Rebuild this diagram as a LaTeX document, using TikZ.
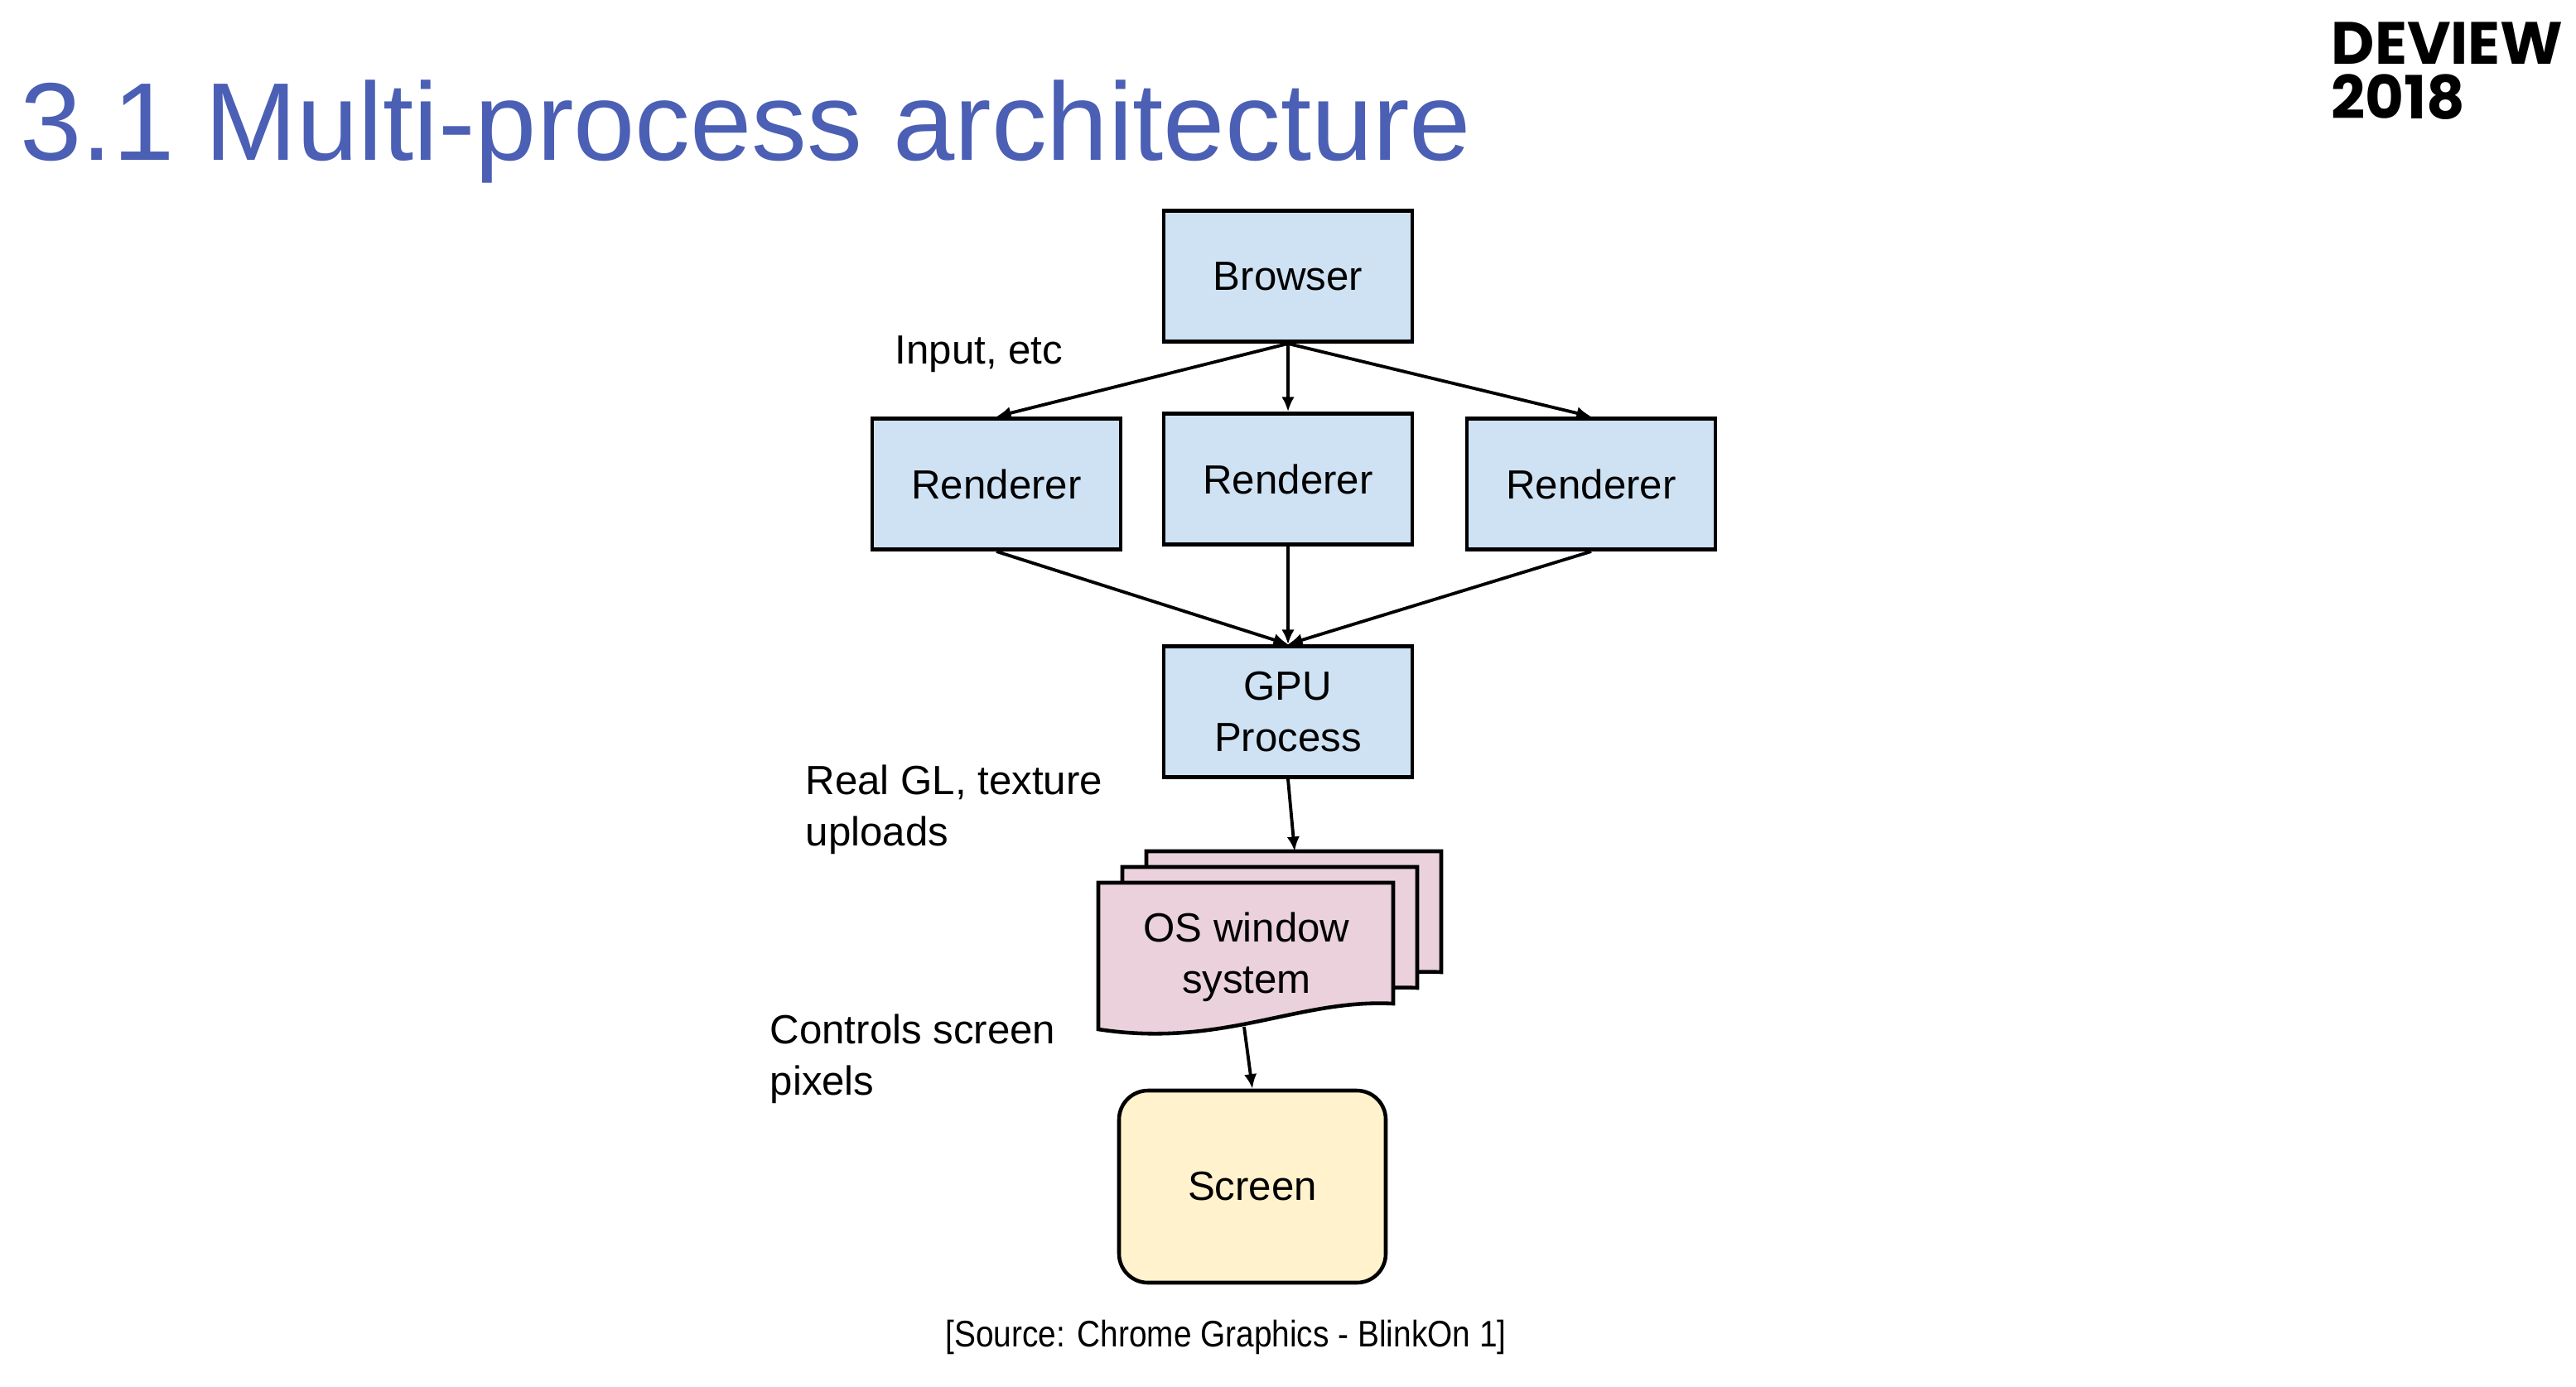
\documentclass[tikz,border=0pt]{standalone}
\usepackage{fontspec}
\setmainfont{Liberation Sans}
\newfontfamily\logofont{Poppins}
\newfontfamily\narrowfont[FakeStretch=0.87]{Liberation Sans}
\usetikzlibrary{arrows.meta}

\definecolor{titleblue}{RGB}{75,95,180}
\definecolor{procblue}{HTML}{CFE2F3}
\definecolor{winpink}{HTML}{EAD1DC}
\definecolor{scrnyellow}{HTML}{FFF2CC}

\begin{document}
\begin{tikzpicture}[
    % Styles
    proc/.style={draw=black, fill=procblue, line width=1.4pt, minimum width=3.0cm, minimum height=1.58cm, align=center, font=\fontsize{14}{17.6}\selectfont},
    winsheet/.style={draw=black, fill=winpink, line width=1.3pt},
    screenbox/.style={draw=black, fill=scrnyellow, line width=1.3pt, rounded corners=0.35cm, minimum width=3.22cm, minimum height=2.32cm, font=\fontsize{14}{17.6}\selectfont},
    arrow/.style={-{Latex[length=5pt,width=4.4pt]}, line width=1.1pt},
    note/.style={inner sep=0pt, align=left, font=\fontsize{14}{17.6}\selectfont},
    logo/.style={anchor=base west, inner sep=0pt, font=\logofont\bfseries\fontsize{20.5}{21}\selectfont},
]
\useasboundingbox (0,0) rectangle (31.1,-16.74);

% Title
\node[anchor=base west, inner sep=0pt, titleblue, font=\fontsize{38}{40}\selectfont] (title) at (0.24,-1.93) {3.1 Multi-process architecture};
\node[logo] (logo-name) at (28.14,-0.77) {DEVIEW};
\node[logo] (logo-year) at (28.14,-1.43) {2018};

% Processes
\node[proc] (browser) at (15.55,-3.335) {Browser};
\node[proc] (rend-l) at (12.03,-5.845) {Renderer};
\node[proc] (rend-m) at (15.55,-5.785) {Renderer};
\node[proc] (rend-r) at (19.21,-5.845) {Renderer};
\node[proc] (gpu) at (15.55,-8.595) {GPU\\Process};

\draw[arrow] (browser.south) -- (rend-l.north);
\draw[arrow] (browser.south) -- (rend-m.north);
\draw[arrow] (browser.south) -- (rend-r.north);
\node[note, anchor=west] (input) at (10.80,-4.28) {Input, etc};

\draw[arrow] (rend-l.south) -- (gpu.north);
\draw[arrow] (rend-m.south) -- (gpu.north);
\draw[arrow] (rend-r.south) -- (gpu.north);

% OS window system: stack of sheets
\foreach \dx/\dy in {0.58/0.38, 0.29/0.19, 0/0}
    \draw[winsheet, shift={(13.26+\dx,-10.66+\dy)}] (0,0) -- (3.56,0) -- (3.56,-1.46)
        .. controls (2.4,-1.40) and (1.5,-2.0) .. (0,-1.77) -- cycle;
\node[align=center, font=\fontsize{14}{17.6}\selectfont] (oswin) at (15.05,-11.56) {OS window\\system};
\coordinate (os-in) at (15.63,-10.28);
\coordinate (os-out) at (15.02,-12.40);

\draw[arrow] (gpu.south) -- (os-in);
\node[note, anchor=west] (gl-note) at (9.72,-9.775) {Real GL, texture\\uploads};

% Screen
\node[screenbox] (screen) at (15.12,-14.33) {Screen};
\draw[arrow] (os-out) -- (screen.north);
\node[note, anchor=west] (pix-note) at (9.29,-12.785) {Controls screen\\pixels};

% Source
\node[font=\narrowfont\fontsize{12.7}{14}\selectfont] (source) at (14.80,-16.15) {[Source: Chrome Graphics - BlinkOn 1]};

\end{tikzpicture}
\end{document}
